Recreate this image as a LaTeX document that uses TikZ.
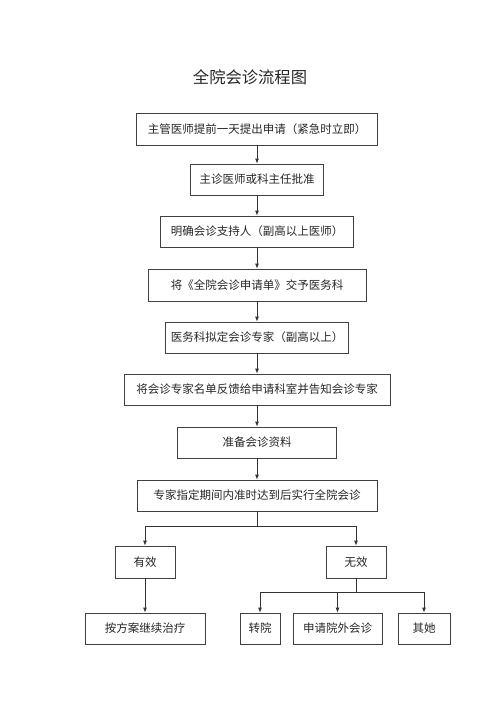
\documentclass[tikz,border=0pt]{standalone}
\usepackage{fontspec}
\newfontfamily\cjk{Noto Sans CJK SC}
\usetikzlibrary{arrows.meta}
\begin{document}
\begin{tikzpicture}[x=1pt,y=-1pt,
 box/.style={draw=black!75, line width=0.8pt, font=\cjk\fontsize{11.5}{13}\selectfont, text=black!85, inner sep=0pt, minimum height=31pt},
 arr/.style={draw=black!80, line width=0.8pt, -{Latex[length=5pt,width=4pt]}},
 ln/.style={draw=black!80, line width=0.8pt}]
\useasboundingbox (0,0) rectangle (500,707);
\node[font=\cjk\fontsize{16.3}{18}\selectfont, text=black!85] (title) at (250,77) {全院会诊流程图};
\node[box, minimum width=241pt, minimum height=32pt] (n1) at (257,129) {主管医师提前一天提出申请（紧急时立即）};
\node[box, minimum width=133pt] (n2) at (257,179.5) {主诊医师或科主任批准};
\node[box, minimum width=193pt] (n3) at (257,231.5) {明确会诊支持人（副高以上医师）};
\node[box, minimum width=218pt, minimum height=32pt] (n4) at (257,285) {将《全院会诊申请单》交予医务科};
\node[box, minimum width=183pt] (n5) at (257,337.5) {医务科拟定会诊专家（副高以上）};
\node[box, minimum width=266pt] (n6) at (257,389.5) {将会诊专家名单反馈给申请科室并告知会诊专家};
\node[box, minimum width=159pt] (n7) at (257,442.5) {准备会诊资料};
\node[box, minimum width=240pt] (n8) at (257,495.5) {专家指定期间内准时达到后实行全院会诊};
\node[box, minimum width=60pt, minimum height=32pt] (yx) at (145,562) {有效};
\node[box, minimum width=60pt, minimum height=32pt] (wx) at (356,562) {无效};
\node[box, minimum width=120pt] (af) at (145,628.5) {按方案继续治疗};
\node[box, minimum width=40pt] (zy) at (260,628.5) {转院};
\node[box, minimum width=89pt] (sq) at (337.5,628.5) {申请院外会诊};
\node[box, minimum width=52pt] (qt) at (424,628.5) {其她};
\coordinate (j1) at (257,526);
\coordinate (j2) at (356,592);
\draw[arr] (n1) -- (n2);
\draw[arr] (n2) -- (n3);
\draw[arr] (n3) -- (n4);
\draw[arr] (n4) -- (n5);
\draw[arr] (n5) -- (n6);
\draw[arr] (n6) -- (n7);
\draw[arr] (n7) -- (n8);
\draw[ln] (n8) -- (j1);
\draw[arr] (j1) -| (yx.north);
\draw[arr] (j1) -| (wx.north);
\draw[arr] (yx) -- (af);
\draw[ln] (wx) -- (j2);
\draw[arr] (j2) -| (zy.north);
\draw[arr] (j2) -| (sq.north);
\draw[arr] (j2) -| (qt.north);
\end{tikzpicture}
\end{document}
